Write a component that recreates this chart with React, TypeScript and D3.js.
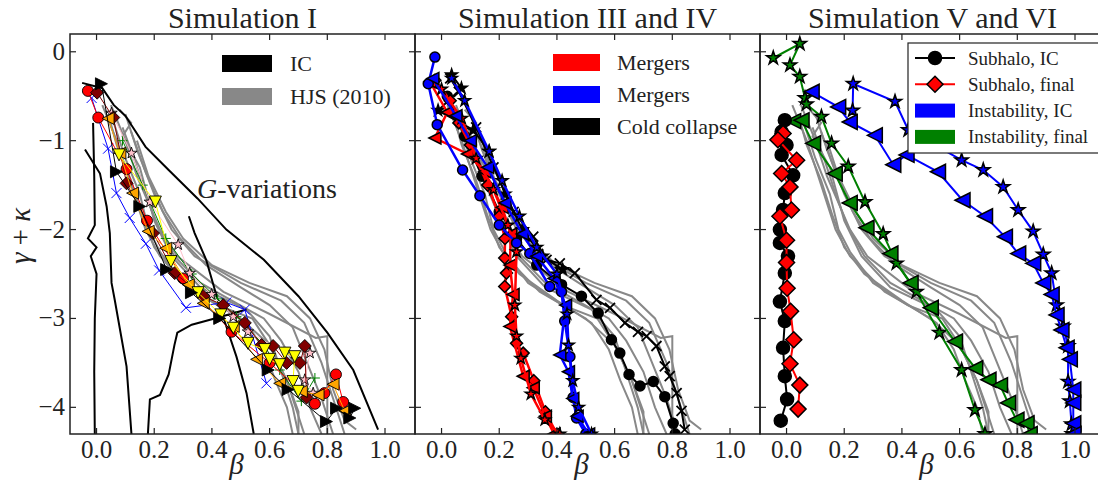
import React, { useEffect, useRef } from "react";
import * as d3 from "d3";

type Pt = [number, number];

const xTicks = [0, 0.2, 0.4, 0.6, 0.8, 1.0];
const yTicks = [0, -1, -2, -3, -4];
const titles = ["Simulation I", "Simulation III and IV", "Simulation V and VI"];

// HJS (2010) runs, shown in grey in every panel
const hjs1: Pt[] = [[0.02,-0.6],[0.07,-1.0],[0.11,-1.4],[0.17,-2.0],[0.22,-2.3],[0.34,-2.7],[0.5,-3.0],[0.6,-3.3],[0.66,-3.7],[0.72,-4.3]];
const hjs2: Pt[] = [[0.05,-0.6],[0.1,-1.0],[0.14,-1.4],[0.22,-2.0],[0.28,-2.3],[0.44,-2.7],[0.6,-2.95],[0.76,-3.22],[0.8,-3.2],[0.8,-3.7],[0.8,-4.3]];
const hjs3: Pt[] = [[0.08,-0.65],[0.12,-0.8],[0.09,-0.95],[0.15,-1.3],[0.2,-1.9],[0.26,-2.3],[0.36,-2.65],[0.52,-2.9],[0.6,-3.2],[0.64,-3.6],[0.68,-4.0],[0.7,-4.3]];
const hjs4: Pt[] = [[0.1,-0.7],[0.14,-1.1],[0.2,-1.6],[0.26,-2.0],[0.34,-2.3],[0.5,-2.6],[0.64,-2.8],[0.72,-3.05],[0.78,-3.5],[0.82,-3.9],[0.86,-4.3]];
const hjs5: Pt[] = [[0.06,-0.8],[0.1,-1.2],[0.15,-1.6],[0.18,-2.0],[0.22,-2.25],[0.3,-2.6],[0.42,-2.85],[0.54,-3.0],[0.6,-3.3],[0.66,-3.7],[0.7,-4.05],[0.7,-4.3]];
const hjs6: Pt[] = [[0.12,-0.9],[0.17,-1.35],[0.23,-1.8],[0.29,-2.1],[0.38,-2.4],[0.5,-2.65],[0.6,-2.85],[0.68,-3.1],[0.73,-3.5],[0.78,-3.9],[0.82,-4.3]];
const hjs7: Pt[] = [[0.04,-0.7],[0.07,-1.05],[0.12,-1.45],[0.16,-1.85],[0.2,-2.2],[0.27,-2.5],[0.4,-2.8],[0.52,-3.05],[0.58,-3.35],[0.62,-3.7],[0.66,-4.0],[0.68,-4.3]];
const hjs8: Pt[] = [[0.14,-1.0],[0.18,-1.4],[0.24,-1.8],[0.3,-2.1],[0.4,-2.4],[0.53,-2.6],[0.66,-2.75],[0.74,-3.0],[0.79,-3.35],[0.82,-3.8],[0.86,-4.15],[0.9,-4.25]];
const hjs9: Pt[] = [[0.09,-0.85],[0.13,-1.2],[0.17,-1.6],[0.21,-1.95],[0.27,-2.3],[0.36,-2.6],[0.48,-2.82],[0.58,-3.0],[0.64,-3.25],[0.7,-3.6],[0.74,-4.0],[0.78,-4.3]];
const hjsLines = [hjs1, hjs2, hjs3, hjs4, hjs5, hjs6, hjs7, hjs8, hjs9];

// Simulation I: initial conditions
const ic1: Pt[] = [[-0.05,-0.35],[0.02,-0.41],[0.06,-0.6],[0.1,-0.72],[0.17,-1.07],[0.25,-1.33],[0.35,-1.65],[0.45,-2.0],[0.58,-2.34],[0.7,-2.75],[0.8,-3.16],[0.89,-3.58],[0.976,-4.25]];
const ic2: Pt[] = [[0.32,-1.85],[0.34,-2.04],[0.38,-2.34],[0.42,-2.79],[0.45,-3.09],[0.485,-3.43],[0.52,-3.84],[0.545,-4.3]];
const ic3: Pt[] = [[0.52,-2.9],[0.4,-3.01],[0.33,-3.07],[0.28,-3.16],[0.27,-3.3],[0.25,-3.63],[0.22,-3.86],[0.185,-3.91],[0.178,-4.3]];
const ic4: Pt[] = [[-0.012,-0.8],[-0.008,-1.4],[-0.006,-1.95],[-0.03,-2.1],[0.0,-2.2],[-0.02,-2.3],[0.0,-2.5],[-0.006,-3.0],[-0.008,-3.6],[-0.006,-4.3]];
const ic5: Pt[] = [[-0.04,-1.1],[0.012,-1.37],[0.035,-1.74],[0.046,-2.04],[0.052,-2.6],[0.063,-2.79],[0.104,-3.54],[0.121,-4.3]];
const icLines = [ic1, ic2, ic3, ic4, ic5];

// Simulation I: G-variation runs
const p1Blue: Pt[] = [[-0.017,-0.52],[0.04,-1.09],[0.069,-1.59],[0.115,-1.87],[0.171,-2.16],[0.217,-2.46],[0.31,-2.88],[0.45,-2.82],[0.514,-2.9],[0.589,-3.73]];
const p1Green: Pt[] = [[0.09,-1.0],[0.16,-1.5],[0.24,-2.1],[0.33,-2.5],[0.42,-2.78],[0.485,-2.98],[0.58,-3.3],[0.635,-3.58],[0.71,-3.93],[0.757,-3.67]];
const p1Pink: Pt[] = [[0.052,-0.69],[0.121,-1.14],[0.185,-1.69],[0.283,-2.17],[0.323,-2.49],[0.399,-2.73],[0.474,-2.98],[0.525,-3.15],[0.693,-3.46],[0.74,-3.39],[0.722,-3.69],[0.751,-3.84]];
const p1Red: Pt[] = [[-0.03,-0.44],[0.006,-0.74],[0.104,-1.32],[0.175,-1.9],[0.3,-2.55],[0.468,-3.15],[0.6,-3.5],[0.757,-3.96],[0.79,-3.84],[0.83,-3.63],[0.855,-3.94]];
const p1Maroon: Pt[] = [[0.002,-0.46],[0.058,-0.74],[0.104,-1.48],[0.196,-2.04],[0.271,-2.49],[0.37,-2.75],[0.439,-2.85],[0.514,-3.05],[0.572,-3.3],[0.612,-3.31],[0.659,-3.5],[0.705,-3.5],[0.722,-3.31],[0.728,-3.89]];
const p1Orange: Pt[] = [[0.04,-0.75],[0.081,-1.14],[0.125,-1.59],[0.179,-2.02],[0.24,-2.21],[0.318,-2.62],[0.37,-2.83],[0.474,-3.09],[0.555,-3.46],[0.635,-3.73],[0.71,-3.82],[0.768,-3.86],[0.82,-3.74],[0.86,-4.04]];
const p1Yellow: Pt[] = [[0.078,-1.16],[0.204,-1.69],[0.258,-2.36],[0.352,-2.71],[0.431,-2.96],[0.474,-3.11],[0.525,-3.28],[0.583,-3.35],[0.6,-3.46],[0.635,-3.52],[0.653,-3.39],[0.687,-3.43],[0.681,-3.71],[0.699,-3.82]];
const p1Black: Pt[] = [[0.017,-0.36],[0.069,-1.35],[0.15,-1.74],[0.243,-2.45],[0.329,-2.71],[0.427,-3.0],[0.595,-3.58],[0.664,-3.8],[0.797,-4.16],[0.832,-4.01],[0.878,-4.12],[0.895,-4.01]];

// Simulation III and IV
const p2RedD: Pt[] = [[-0.023,-0.32],[0.03,-0.55],[0.06,-0.8],[0.1,-1.05],[0.16,-1.5],[0.2,-1.85],[0.22,-2.1],[0.219,-2.32],[0.225,-2.49],[0.219,-2.64],[0.243,-2.98],[0.26,-3.28],[0.283,-3.39],[0.32,-3.7],[0.36,-4.05],[0.4,-4.3]];
const p2RedT: Pt[] = [[-0.04,-0.34],[0.02,-0.68],[-0.023,-0.97],[0.09,-1.15],[0.15,-1.35],[0.21,-1.75],[0.24,-2.05],[0.237,-2.4],[0.248,-2.73],[0.237,-3.09],[0.283,-3.65],[0.318,-3.78],[0.36,-4.1],[0.39,-4.3]];
const p2RedS: Pt[] = [[0.0,-0.42],[0.07,-0.75],[0.12,-1.2],[0.18,-1.55],[0.23,-1.95],[0.26,-2.25],[0.254,-2.85],[0.26,-3.2],[0.275,-3.45],[0.31,-3.85],[0.358,-4.14],[0.41,-4.3]];
const p2BlueO: Pt[] = [[-0.023,-0.06],[-0.046,-0.36],[-0.015,-0.82],[0.073,-1.33],[0.133,-1.62],[0.2,-1.95],[0.26,-2.15],[0.306,-2.27],[0.375,-2.64],[0.416,-2.7],[0.427,-3.03],[0.445,-3.43],[0.456,-3.89],[0.468,-4.12],[0.5,-4.3]];
const p2BlueT: Pt[] = [[-0.03,-0.3],[0.05,-0.72],[0.1,-1.0],[0.16,-1.3],[0.22,-1.7],[0.28,-2.05],[0.33,-2.3],[0.39,-2.55],[0.43,-2.85],[0.41,-3.41],[0.44,-3.6],[0.455,-3.9],[0.47,-4.1],[0.51,-4.3]];
const p2BlueS: Pt[] = [[0.035,-0.3],[0.08,-0.55],[0.165,-1.12],[0.21,-1.45],[0.27,-1.85],[0.33,-2.2],[0.4,-2.5],[0.435,-2.95],[0.44,-3.3],[0.455,-3.7],[0.475,-4.0],[0.52,-4.3]];
const p2BlackX: Pt[] = [[0.03,-0.3],[0.06,-0.45],[0.12,-0.85],[0.18,-1.3],[0.25,-1.8],[0.318,-2.08],[0.364,-2.34],[0.41,-2.38],[0.462,-2.49],[0.537,-2.79],[0.584,-2.88],[0.636,-3.05],[0.681,-3.15],[0.711,-3.2],[0.745,-3.31],[0.774,-3.54],[0.791,-3.65],[0.815,-3.84],[0.832,-4.04],[0.843,-4.25]];
const p2BlackO: Pt[] = [[0.02,-0.5],[0.08,-0.95],[0.14,-1.4],[0.2,-1.8],[0.26,-2.1],[0.33,-2.4],[0.416,-2.62],[0.485,-2.75],[0.543,-2.94],[0.589,-3.24],[0.618,-3.39],[0.65,-3.63],[0.688,-3.76],[0.734,-3.71],[0.774,-3.88],[0.803,-4.18],[0.81,-4.3]];
const p2BlackS: Pt[] = [[0.035,-0.26],[0.069,-0.41],[-0.012,-0.66],[0.11,-0.88],[0.165,-1.12],[0.22,-1.6],[0.28,-2.0],[0.35,-2.3],[0.42,-2.45]];

// Simulation V and VI
const subIC: Pt[] = [[-0.006,-0.77],[-0.017,-0.9],[0.0,-1.05],[-0.017,-1.16],[0.023,-1.39],[-0.006,-1.59],[-0.012,-1.78],[-0.023,-2.0],[-0.023,-2.15],[0.005,-2.3],[-0.006,-2.49],[-0.023,-2.81],[-0.006,-3.03],[-0.012,-3.33],[-0.006,-3.65],[0.002,-3.91],[-0.02,-4.15]];
const subFinal: Pt[] = [[-0.012,-0.92],[-0.03,-0.99],[0.035,-1.22],[-0.017,-1.37],[0.012,-1.52],[0.017,-1.78],[-0.023,-1.85],[0.0,-2.12],[0.0,-2.37],[0.002,-2.66],[0.014,-2.92],[0.025,-3.24],[0.012,-3.51],[0.046,-3.75],[0.04,-4.02]];
const instICTri: Pt[] = [[0.087,-0.45],[0.179,-0.62],[0.219,-0.79],[0.306,-0.94],[0.37,-1.27],[0.416,-1.16],[0.525,-1.35],[0.61,-1.67],[0.688,-1.85],[0.757,-2.08],[0.803,-2.27],[0.855,-2.38],[0.89,-2.6],[0.919,-2.73],[0.936,-2.96],[0.953,-3.13],[0.971,-3.33],[0.982,-3.46],[0.994,-3.8],[0.994,-3.95],[0.994,-4.18],[0.995,-4.3]];
const instICStar: Pt[] = [[0.229,-0.66],[0.231,-0.36],[0.376,-0.56],[0.422,-0.88],[0.607,-1.22],[0.682,-1.33],[0.751,-1.52],[0.803,-1.78],[0.855,-2.02],[0.89,-2.28],[0.919,-2.49],[0.936,-2.85],[0.959,-3.09],[0.976,-3.31],[0.976,-3.71],[0.982,-3.93],[0.988,-4.19],[0.99,-4.3]];
const instFinStar: Pt[] = [[-0.046,-0.07],[0.046,0.09],[0.012,-0.15],[0.046,-0.28],[0.064,-0.52],[0.069,-0.59],[0.121,-0.73],[0.156,-1.03],[0.214,-1.29],[0.272,-1.69],[0.335,-2.05],[0.381,-2.38],[0.45,-2.7],[0.53,-3.16],[0.607,-3.58],[0.653,-4.03],[0.688,-4.3]];
const instFinTri: Pt[] = [[0.023,-0.78],[0.052,-0.77],[0.092,-1.03],[0.167,-1.37],[0.219,-1.7],[0.277,-1.98],[0.36,-2.27],[0.43,-2.6],[0.5,-2.88],[0.584,-3.26],[0.654,-3.56],[0.7,-3.69],[0.74,-3.75],[0.768,-3.95],[0.797,-4.14],[0.832,-4.18],[0.843,-4.3]];

type S = { data: Pt[]; color: string; marker: string; lw: number; ms: number };

const panel1: S[] = [
  { data: p1Blue, color: "blue", marker: "x", lw: 1, ms: 5 },
  { data: p1Green, color: "green", marker: "+", lw: 1, ms: 5 },
  { data: p1Pink, color: "pink", marker: "*", lw: 1, ms: 6 },
  { data: p1Red, color: "red", marker: "o", lw: 1, ms: 5.5 },
  { data: p1Maroon, color: "#800000", marker: "D", lw: 1, ms: 6.5 },
  { data: p1Orange, color: "orange", marker: "<", lw: 1, ms: 6 },
  { data: p1Yellow, color: "yellow", marker: "v", lw: 1, ms: 6 },
  { data: p1Black, color: "black", marker: ">", lw: 1, ms: 6 },
];
const panel2: S[] = [
  { data: p2BlackO, color: "black", marker: "o", lw: 2, ms: 5 },
  { data: p2BlackX, color: "black", marker: "x", lw: 2, ms: 5 },
  { data: p2BlackS, color: "black", marker: "*", lw: 2, ms: 6 },
  { data: p2RedD, color: "red", marker: "D", lw: 2.5, ms: 6 },
  { data: p2RedT, color: "red", marker: "<", lw: 2.5, ms: 6 },
  { data: p2RedS, color: "red", marker: "*", lw: 2.5, ms: 6 },
  { data: p2BlueO, color: "blue", marker: "o", lw: 2.5, ms: 5 },
  { data: p2BlueT, color: "blue", marker: "<", lw: 2.5, ms: 6 },
  { data: p2BlueS, color: "blue", marker: "*", lw: 2.5, ms: 6 },
];
const panel3: S[] = [
  { data: instFinStar, color: "green", marker: "*", lw: 2, ms: 7 },
  { data: instFinTri, color: "green", marker: "<", lw: 2, ms: 7.5 },
  { data: instICStar, color: "blue", marker: "*", lw: 2, ms: 7 },
  { data: instICTri, color: "blue", marker: "<", lw: 2, ms: 7.5 },
  { data: subIC, color: "black", marker: "o", lw: 2, ms: 6.5 },
  { data: subFinal, color: "red", marker: "D", lw: 2, ms: 8 },
];

const W = 1098, H = 484;
const lefts = [70, 415, 760];
const PW = 345, TOP = 34, BOT = 434;
const FONT = "'Liberation Serif', 'DejaVu Serif', 'Times New Roman', serif";

function markerPath(m: string, s: number): string {
  switch (m) {
    case "o": return d3.symbol(d3.symbolCircle, Math.PI * s * s)() as string;
    case "*": return d3.symbol(d3.symbolStar, (s * s) / 0.8908130915292852)() as string;
    case "D": return `M0,${-s}L${s},0L0,${s}L${-s},0Z`;
    case "<": return `M${-s},0L${s},${-s}L${s},${s}Z`;
    case ">": return `M${s},0L${-s},${-s}L${-s},${s}Z`;
    case "v": return `M0,${s}L${-s},${-s}L${s},${-s}Z`;
    case "+": return `M${-s},0H${s}M0,${-s}V${s}`;
    default: return `M${-s},${-s}L${s},${s}M${-s},${s}L${s},${-s}`;
  }
}

export default function App() {
  const ref = useRef<SVGSVGElement>(null);

  useEffect(() => {
    const svg = d3.select(ref.current);
    svg.selectAll("*").remove();

    const x = d3.scaleLinear().domain([-0.092, 1.104]).range([0, PW]);
    const y = d3.scaleLinear().domain([0.2, -4.3]).range([TOP, BOT]);
    const line = d3.line<Pt>().x(d => x(d[0])).y(d => y(d[1]));

    const defs = svg.append("defs");
    const panels = [panel1, panel2, panel3];

    panels.forEach((series, i) => {
      defs.append("clipPath").attr("id", "clip" + i)
        .append("rect").attr("x", 0).attr("y", TOP).attr("width", PW).attr("height", BOT - TOP);

      const g = svg.append("g").attr("transform", `translate(${lefts[i]},0)`);
      const body = g.append("g").attr("clip-path", `url(#clip${i})`);

      // grey HJS lines
      hjsLines.forEach(l => {
        body.append("path").attr("d", line(l)).attr("fill", "none")
          .attr("stroke", "#888").attr("stroke-width", 2);
      });

      if (i === 0) {
        icLines.forEach(l => {
          body.append("path").attr("d", line(l)).attr("fill", "none")
            .attr("stroke", "black").attr("stroke-width", 2);
        });
      }

      series.forEach(s => {
        body.append("path").attr("d", line(s.data)).attr("fill", "none")
          .attr("stroke", s.color).attr("stroke-width", s.lw);
        const open = s.marker === "x" || s.marker === "+";
        body.selectAll(null).data(s.data).enter().append("path")
          .attr("transform", d => `translate(${x(d[0])},${y(d[1])})`)
          .attr("d", markerPath(s.marker, s.ms))
          .attr("fill", open ? "none" : s.color)
          .attr("stroke", open ? s.color : "black")
          .attr("stroke-width", open ? (i === 0 ? 1 : 1.8) : (i === 0 ? 0.9 : 1.5));
      });

      // frame
      g.append("rect").attr("x", 0).attr("y", TOP).attr("width", PW).attr("height", BOT - TOP)
        .attr("fill", "none").attr("stroke", "#222").attr("stroke-width", 1.5);

      // ticks
      xTicks.forEach(t => {
        g.append("line").attr("x1", x(t)).attr("x2", x(t)).attr("y1", BOT).attr("y2", BOT - 6)
          .attr("stroke", "#222").attr("stroke-width", 1.2);
        g.append("line").attr("x1", x(t)).attr("x2", x(t)).attr("y1", TOP).attr("y2", TOP + 6)
          .attr("stroke", "#222").attr("stroke-width", 1.2);
        g.append("text").attr("x", x(t)).attr("y", BOT + 24).attr("text-anchor", "middle")
          .style("font-family", FONT).style("font-size", "25px").attr("fill", "#222")
          .text(t.toFixed(1));
      });
      yTicks.forEach(t => {
        g.append("line").attr("x1", 0).attr("x2", 6).attr("y1", y(t)).attr("y2", y(t))
          .attr("stroke", "#222").attr("stroke-width", 1.2);
        g.append("line").attr("x1", PW).attr("x2", PW - 6).attr("y1", y(t)).attr("y2", y(t))
          .attr("stroke", "#222").attr("stroke-width", 1.2);
        if (i === 0) {
          g.append("text").attr("x", -5).attr("y", y(t) + 8).attr("text-anchor", "end")
            .style("font-family", FONT).style("font-size", "25px").attr("fill", "#222")
            .text(t === 0 ? "0" : "\u2212" + Math.abs(t));
        }
      });

      g.append("text").attr("x", PW / 2).attr("y", 28).attr("text-anchor", "middle")
        .style("font-family", FONT).style("font-size", "30px").attr("fill", "#222")
        .text(titles[i]);
      g.append("text").attr("x", PW / 2 - 6).attr("y", 474).attr("text-anchor", "middle")
        .style("font-family", FONT).style("font-size", "29px").style("font-style", "italic")
        .attr("fill", "#222").text("\u03b2");
    });

    // y label
    svg.append("text").attr("transform", "translate(30,236) rotate(-90)").attr("text-anchor", "middle")
      .style("font-family", FONT).style("font-size", "29px").attr("fill", "#222")
      .html('<tspan font-style="italic">\u03b3</tspan> + <tspan font-style="italic">\u03ba</tspan>');

    // panel 1 legend + annotation
    const g1 = svg.append("g").attr("transform", `translate(${lefts[0]},0)`);
    [["black", "IC"], ["#888", "HJS (2010)"]].forEach((e, k) => {
      g1.append("rect").attr("x", 152).attr("y", 55 + k * 33).attr("width", 50).attr("height", 17).attr("fill", e[0]);
      g1.append("text").attr("x", 220).attr("y", 71 + k * 33).style("font-family", FONT)
        .style("font-size", "22px").attr("fill", "#222").text(e[1]);
    });
    g1.append("text").attr("x", 127).attr("y", 198).style("font-family", FONT).style("font-size", "28px")
      .attr("fill", "#222")
      .html('<tspan font-style="italic">G</tspan>-variations');

    // panel 2 legend
    const g2 = svg.append("g").attr("transform", `translate(${lefts[1]},0)`);
    [["red", "Mergers"], ["blue", "Mergers"], ["black", "Cold collapse"]].forEach((e, k) => {
      g2.append("rect").attr("x", 138).attr("y", 54 + k * 32).attr("width", 47).attr("height", 17).attr("fill", e[0]);
      g2.append("text").attr("x", 202).attr("y", 70 + k * 32).style("font-family", FONT)
        .style("font-size", "22px").attr("fill", "#222").text(e[1]);
    });

    // panel 3 legend
    const g3 = svg.append("g").attr("transform", `translate(${lefts[2]},0)`);
    g3.append("rect").attr("x", 148).attr("y", 43).attr("width", 200).attr("height", 110)
      .attr("fill", "white").attr("stroke", "#222").attr("stroke-width", 1.2);
    const leg3: [string, string, string][] = [
      ["line", "black", "Subhalo, IC"],
      ["line", "red", "Subhalo, final"],
      ["patch", "blue", "Instability, IC"],
      ["patch", "green", "Instability, final"],
    ];
    leg3.forEach((e, k) => {
      const cy = 58 + k * 26.3;
      if (e[0] === "line") {
        g3.append("line").attr("x1", 155).attr("x2", 195).attr("y1", cy).attr("y2", cy)
          .attr("stroke", e[1]).attr("stroke-width", 2);
        g3.append("path").attr("transform", `translate(175,${cy})`)
          .attr("d", markerPath(k === 0 ? "o" : "D", k === 0 ? 6.5 : 8))
          .attr("fill", e[1]).attr("stroke", "black").attr("stroke-width", 1.5);
      } else {
        g3.append("rect").attr("x", 155).attr("y", cy - 7).attr("width", 40).attr("height", 14).attr("fill", e[1]);
      }
      g3.append("text").attr("x", 208).attr("y", cy + 6.5).style("font-family", FONT)
        .style("font-size", "19px").attr("fill", "#222").text(e[2]);
    });
  }, []);

  return (
    <svg ref={ref} width={W} height={H}
      style={{ position: "absolute", left: 0, top: 0, background: "white" }} />
  );
}
